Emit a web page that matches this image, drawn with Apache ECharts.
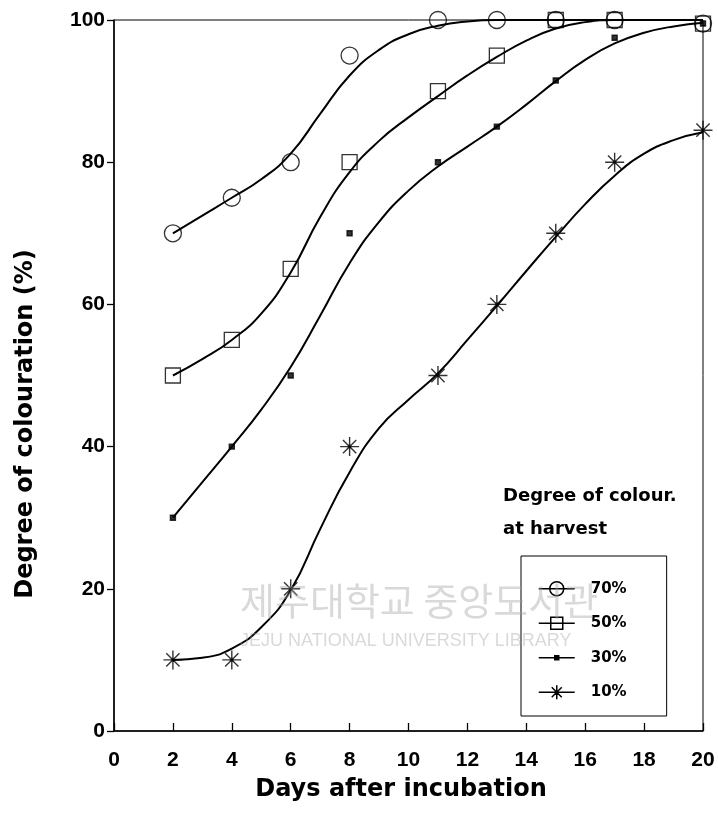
<!DOCTYPE html>
<html>
<head>
<meta charset="utf-8">
<script src="https://cdn.jsdelivr.net/npm/echarts@6/dist/echarts.min.js"></script>
<style>
html,body{margin:0;padding:0;background:#fff;}
#chart{width:718px;height:830px;}
</style>
</head>
<body>
<div id="chart"></div>
<script>
// ---- data ----
const days = [2, 4, 6, 8, 11, 13, 15, 17, 20];
const obs70 = [70, 75, 80, 95, 100, 100, 100, 100, 99.5];
const obs50 = [50, 55, 65, 80, 90, 95, 100, 100, 99.5];
const obs30 = [30, 40, 50, 70, 80, 85, 91.5, 97.5, 99.5];
const obs10 = [10, 10, 20, 40, 50, 60, 70, 80, 84.5];

// fitted curves as drawn in the figure (day, %)
const curve70 = [[2,70],[3,72.5],[4,75],[5,77.6],[6,81.2],[7,86.8],[8,92.2],[9,95.8],[10,98],[11,99.2],[12,99.8],[13,100],[20,100]];
const curve50 = [[2,50],[3,52.3],[4,55],[5,58.7],[6,64.5],[7,72.3],[8,78.6],[9,83],[10,86.3],[11,89.3],[12,92.2],[13,94.8],[14,97.1],[15,98.8],[16,99.7],[17,100],[20,100]];
const curve30 = [[2,30],[3,35],[4,40],[5,45.2],[6,51.2],[7,58.4],[8,65.8],[9,71.6],[10,76],[11,79.4],[12,82.2],[13,85],[14,88.1],[15,91.4],[16,94.4],[17,96.7],[18,98.2],[19,99.1],[20,99.6]];
const curve10 = [[2,10],[3,10.3],[4,11.6],[5,14.6],[6,19.8],[7,28.4],[8,36.4],[9,42.6],[10,46.6],[11,50.3],[12,55],[13,59.8],[14,64.7],[15,69.5],[16,74.1],[17,78.1],[18,81.2],[19,83.1],[20,84.2]];

const seriesNames = ['70%', '50%', '30%', '10%'];
const xLabel = 'Days after incubation';
const yLabel = 'Degree of colouration (%)';
const legendTitle1 = 'Degree of colour.';
const legendTitle2 = 'at harvest';
const watermark1 = '제주대학교 중앙도서관';
const watermark2 = 'JEJU NATIONAL UNIVERSITY LIBRARY';

// ---- styling ----
const STAR = 'path://M10,0L10,20M0,10L20,10M3,3L17,17M3,17L17,3M8.6,8.6L11.4,8.6L11.4,11.4L8.6,11.4Z';
const ICON70 = 'path://M0,0M47,16M0,8L36,8M25,8A7,7,0,1,1,11,8A7,7,0,1,1,25,8Z';
const ICON50 = 'path://M0,0M47,16M0,8L36,8M12,2L24,2L24,14L12,14Z';
const ICON30 = 'path://M0,0M47,16M0,8L36,8M16,6L20,6L20,10L16,10Z';
const ICON10 = 'path://M0,0M47,16M0,8L36,8M18,1L18,15M13,3L23,13M13,13L23,3M17,7L19,7L19,9L17,9Z';

function pts(arr) { return days.map((d, i) => [d, arr[i]]); }

const hollow = { color: 'rgba(0,0,0,0)', borderColor: '#000', borderWidth: 1.3 };
const solid = { color: '#000', borderColor: '#000', borderWidth: 1.4 };

function curveSeries(name, data) {
  return {
    name, type: 'line', data, smooth: 0.5, showSymbol: false, symbol: 'none',
    lineStyle: { color: '#000', width: 2 }, itemStyle: { color: '#000' },
    silent: true, z: 2
  };
}
function pointSeries(name, data, symbol, size, style) {
  return {
    name, type: 'scatter', data, symbol, symbolSize: size,
    itemStyle: style, silent: true, z: 3
  };
}

const chart = echarts.init(document.getElementById('chart'), null, { renderer: 'canvas' });
chart.setOption({
  animation: false,
  backgroundColor: '#fff',
  grid: { left: 114, right: 15, top: 20, bottom: 99, show: true, borderColor: '#000', borderWidth: 1, backgroundColor: 'transparent' },
  xAxis: {
    type: 'value', min: 0, max: 20, interval: 2,
    name: xLabel, nameLocation: 'middle', nameGap: 47,
    nameTextStyle: { fontFamily: 'DejaVu Sans', fontWeight: 'bold', fontSize: 24, color: '#000', padding: [0, 15, 0, 0] },
    axisLine: { lineStyle: { color: '#000', width: 1.5 } },
    axisTick: { inside: true, length: 8, lineStyle: { color: '#000', width: 1.3 } },
    axisLabel: { fontFamily: 'Liberation Sans', fontWeight: 'bold', fontSize: 21, color: '#000', margin: 19 },
    splitLine: { show: false }
  },
  yAxis: {
    type: 'value', min: 0, max: 100, interval: 20,
    axisLine: { show: true, lineStyle: { color: '#000', width: 1.5 } },
    axisTick: { show: true, inside: false, length: 7, lineStyle: { color: '#000', width: 1.3 } },
    axisLabel: { fontFamily: 'Liberation Sans', fontWeight: 'bold', fontSize: 21, color: '#000', margin: 9 },
    splitLine: { show: false }
  },
  legend: {
    orient: 'vertical', left: 521, top: 556,
    padding: [24, 40, 15, 17],
    itemWidth: 47, itemHeight: 16, itemGap: 17,
    borderColor: '#000', borderWidth: 1, backgroundColor: 'transparent',
    selectedMode: false,
    textStyle: { fontFamily: 'DejaVu Sans', fontWeight: 'bold', fontSize: 15, color: '#000' },
    itemStyle: { color: '#fff', borderColor: '#000', borderWidth: 1.5 },
    data: [
      { name: seriesNames[0], icon: ICON70 },
      { name: seriesNames[1], icon: ICON50 },
      { name: seriesNames[2], icon: ICON30, itemStyle: { color: '#000', borderColor: '#000', borderWidth: 1.5 } },
      { name: seriesNames[3], icon: ICON10, itemStyle: { color: '#000', borderColor: '#000', borderWidth: 1.5 } }
    ]
  },
  graphic: [
    { type: 'text', x: 26, y: 424, rotation: Math.PI / 2, z: 10,
      style: { text: yLabel, font: 'bold 24px "DejaVu Sans"', fill: '#000', align: 'center', verticalAlign: 'middle' } },
    { type: 'text', x: 503, y: 496, z: 10,
      style: { text: legendTitle1, font: 'bold 18px "DejaVu Sans"', fill: '#000', align: 'left', verticalAlign: 'middle' } },
    { type: 'text', x: 503, y: 529, z: 10,
      style: { text: legendTitle2, font: 'bold 18px "DejaVu Sans"', fill: '#000', align: 'left', verticalAlign: 'middle' } },
    { type: 'text', x: 240, y: 601, z: 20, silent: true,
      style: { text: watermark1, font: '38px "Noto Sans CJK KR"', fill: 'rgba(160,160,160,0.4)', align: 'left', verticalAlign: 'middle' } },
    { type: 'text', x: 240, y: 641, z: 20, silent: true,
      style: { text: watermark2, font: '18px "Liberation Sans"', fill: 'rgba(160,160,160,0.4)', align: 'left', verticalAlign: 'middle' } }
  ],
  series: [
    curveSeries(seriesNames[0], curve70),
    curveSeries(seriesNames[1], curve50),
    curveSeries(seriesNames[2], curve30),
    curveSeries(seriesNames[3], curve10),
    pointSeries(seriesNames[0], pts(obs70), 'circle', 17, hollow),
    pointSeries(seriesNames[1], pts(obs50), 'rect', 15, hollow),
    pointSeries(seriesNames[2], pts(obs30), 'rect', 5, solid),
    pointSeries(seriesNames[3], pts(obs10), STAR, 19, solid)
  ]
});
</script>
</body>
</html>
